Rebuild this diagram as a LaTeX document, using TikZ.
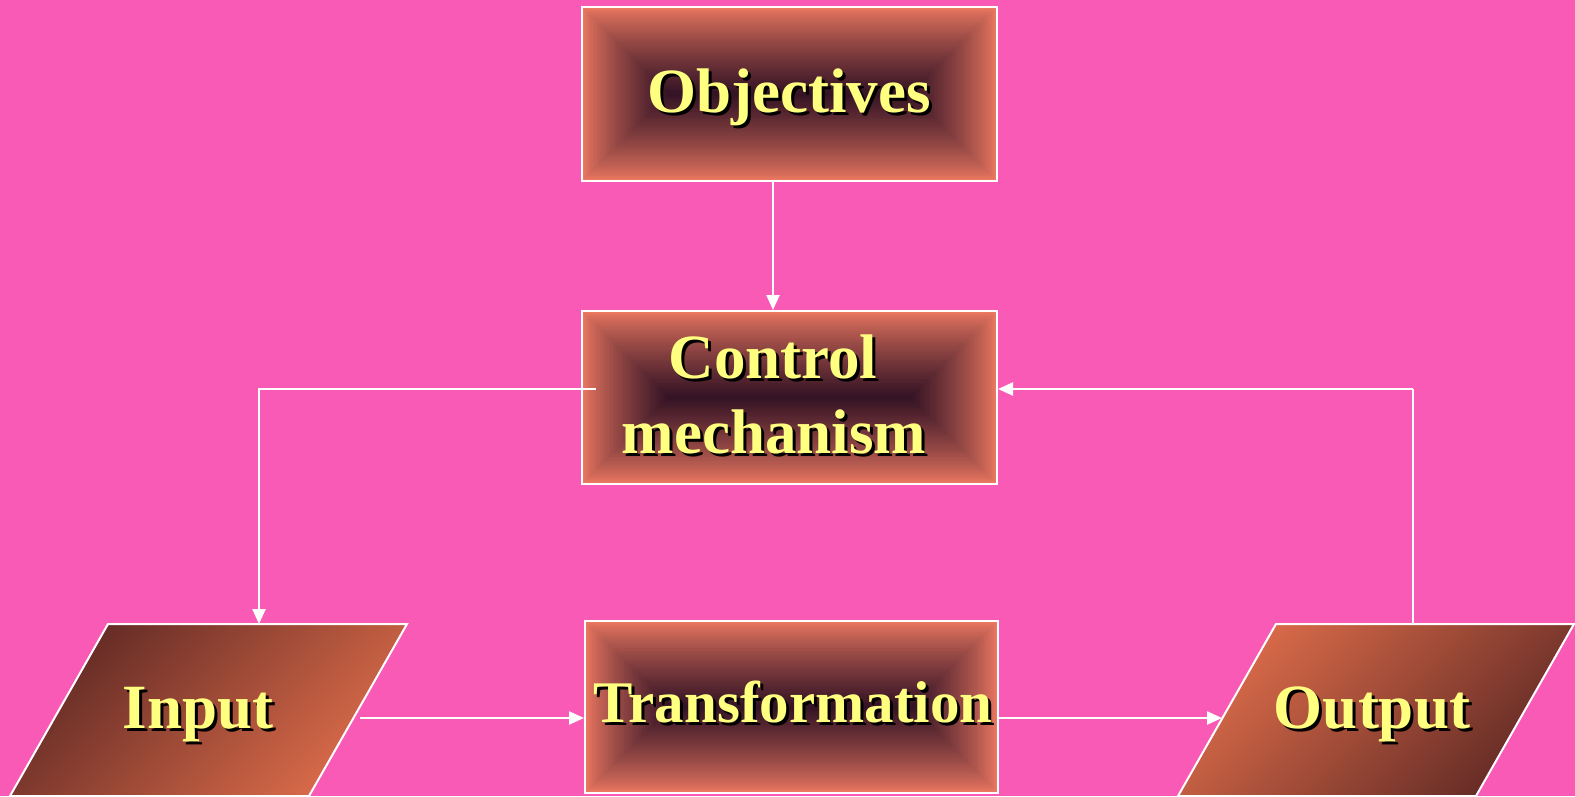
\documentclass[tikz,border=0pt]{standalone}
\usepackage{fontspec}
\setmainfont{Liberation Serif}
\usetikzlibrary{arrows.meta,calc,backgrounds}

\definecolor{bgpink}{RGB}{249,90,181}
\definecolor{rimcol}{RGB}{238,121,98}
\definecolor{corecol}{RGB}{50,18,36}
\definecolor{labelyellow}{RGB}{255,255,128}
\definecolor{browndark}{RGB}{98,42,37}
\definecolor{brownlight}{RGB}{220,108,74}

\tikzset{
  gframe/.style={draw=white, line width=2pt, inner sep=0pt, fill=none},
  lbl/.style={font=\fontsize{63}{75}\selectfont\bfseries, text=labelyellow, inner sep=0pt, anchor=base},
  lblshadow/.style={lbl, text=black},
  arr/.style={draw=white, line width=2.4pt, -{Triangle[length=15pt,width=13pt]}},
  plain/.style={draw=white, line width=2.4pt},
  para/.style={draw=white, line width=2pt},
}

% Box with concentric stepped shading: name, centre x, centre y, width, height
\newcommand\gbox[5]{%
  \begin{scope}[on background layer]
    \pgfmathsetmacro\gbhalf{min(#4,#5)/2}
    \foreach \k in {0,...,48}{%
      \pgfmathsetmacro\gbins{\gbhalf*\k/48}
      \pgfmathsetmacro\gbmix{100*(\k/48)^0.8}
      \fill[corecol!\gbmix!rimcol]
        ({#2-#4/2+\gbins},{#3-#5/2+\gbins}) rectangle ({#2+#4/2-\gbins},{#3+#5/2-\gbins});
    }
  \end{scope}
  \node[gframe, minimum width=#4pt, minimum height=#5pt] (#1) at (#2,#3) {};
}

% Label with a dropped shadow: name, x, baseline y, text, extra style
\newcommand\shtext[5]{%
  \node[lblshadow,#5] (#1s) at (#2+3,#3+3) {#4};
  \node[lbl,#5] (#1) at (#2,#3) {#4};
}

\begin{document}
\begin{tikzpicture}[x=1pt, y=-1pt]
  \begin{scope}[on background layer]
    \fill[bgpink] (0,0) rectangle (1575,796);
  \end{scope}
  \useasboundingbox (0,0) rectangle (1575,796);

  % process boxes
  \gbox{obj}{789.5}{94}{415}{174}
  \gbox{ctrl}{789.5}{397.5}{415}{173}
  \gbox{trans}{791.5}{707}{413}{172}

  % input and output parallelograms
  \coordinate (inA) at (10,796);
  \coordinate (inB) at (108,624);
  \coordinate (inC) at (407,624);
  \coordinate (inD) at (309,796);
  \shadedraw[para, top color=browndark, bottom color=brownlight, shading angle=45]
    (inA) -- (inB) -- (inC) -- (inD) -- cycle;

  \coordinate (outA) at (1178,796);
  \coordinate (outB) at (1276,624);
  \coordinate (outC) at (1574,624);
  \coordinate (outD) at (1476,796);
  \shadedraw[para, top color=brownlight, bottom color=browndark, shading angle=45]
    (outA) -- (outB) -- (outC) -- (outD) -- cycle;

  % labels
  \shtext{objT}{789}{112}{Objectives}{}
  \shtext{ctrlT1}{773}{378}{Control}{}
  \shtext{ctrlT2}{774}{453}{mechanism}{}
  \shtext{transT}{793}{722}{Transformation}{font=\fontsize{59}{70}\selectfont\bfseries}
  \shtext{inT}{198}{728}{Input}{}
  \shtext{outT}{1372}{728}{Output}{}

  % connection points
  \coordinate (ctrlL) at ($(ctrl.west)+(15,-8.5)$);
  \coordinate (ctrlR) at ($(ctrl.east)+(0,-8.5)$);
  \coordinate (inTop) at (259,624);
  \coordinate (outTop) at (1413,624);
  \coordinate (inR) at (360,718);
  \coordinate (outL) at (1222,718);

  % connectors
  \draw[arr] ($(obj.south)+(-16.5,0)$) -- ($(ctrl.north)+(-16.5,0)$);
  \draw[arr] (ctrlL) -| (inTop);
  \draw[plain] (outTop) -- (outTop |- ctrlR);
  \draw[arr] (outTop |- ctrlR) -- (ctrlR);
  \draw[arr] (inR) -- (trans.west |- inR);
  \draw[arr] (trans.east |- inR) -- (outL);
\end{tikzpicture}
\end{document}
